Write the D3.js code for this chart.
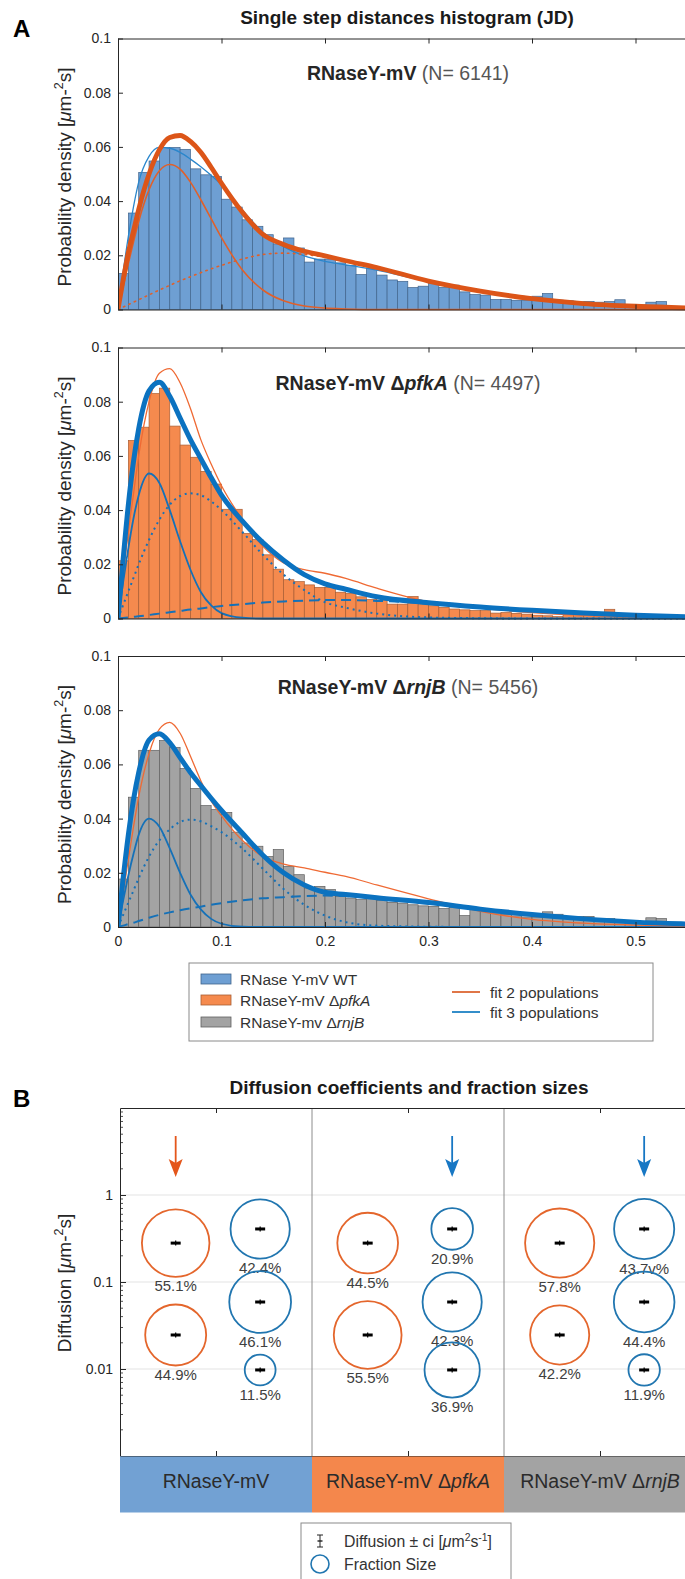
<!DOCTYPE html>
<html>
<head>
<meta charset="utf-8">
<script src="https://cdn.jsdelivr.net/npm/d3@7"></script>
<style>
  body { margin: 0; background: #fff; }
  svg { display: block; font-family: 'Liberation Sans', Arial, Helvetica, sans-serif; }
</style>
</head>
<body>
<div class="graph"></div>
<script>
// ---------- data ----------
const binWidth = 0.01;

// histogram heights per 0.01 bin, starting at 0
const wtBins = [0.0133, 0.0356, 0.0506, 0.0548, 0.0598, 0.0598, 0.0591, 0.0519, 0.0497, 0.0491,
  0.0407, 0.0378, 0.0331, 0.0307, 0.0276, 0.0242, 0.0264, 0.0227, 0.0175, 0.0186,
  0.0186, 0.0172, 0.0163, 0.0129, 0.0153, 0.0127, 0.0109, 0.0104, 0.0081, 0.0086,
  0.0098, 0.0081, 0.0090, 0.0065, 0.0055, 0.0053, 0.0037, 0.0037, 0.0034, 0.0034,
  0.0049, 0.0059, 0.0032, 0.0032, 0.0022, 0.0030, 0.0027, 0.0029, 0.0036, 0.0017,
  0.0017, 0.0027, 0.0029, 0.0010, 0.0010, 0.0010, 0.0008, 0.0008];
const pfkBins = [0.0213, 0.0657, 0.0706, 0.0830, 0.0850, 0.0710, 0.0640, 0.0595, 0.0543, 0.0496,
  0.0403, 0.0403, 0.0314, 0.0291, 0.0235, 0.0182, 0.0143, 0.0136, 0.0124, 0.0115,
  0.0115, 0.0097, 0.0093, 0.0080, 0.0070, 0.0068, 0.0053, 0.0053, 0.0081, 0.0051,
  0.0047, 0.0041, 0.0035, 0.0032, 0.0029, 0.0029, 0.0020, 0.0022, 0.0019, 0.0016,
  0.0012, 0.0010, 0.0007, 0.0025, 0.0010, 0.0025, 0.0010, 0.0034, 0.0006, 0.0006,
  0.0006, 0.0004, 0.0004, 0.0003, 0.0003, 0.0002, 0.0002, 0.0002];
const rnjBins = [0.0177, 0.0479, 0.0652, 0.0652, 0.0688, 0.0663, 0.0585, 0.0511, 0.0448, 0.0433,
  0.0423, 0.0350, 0.0310, 0.0298, 0.0260, 0.0286, 0.0224, 0.0193, 0.0144, 0.0150,
  0.0138, 0.0113, 0.0107, 0.0101, 0.0105, 0.0098, 0.0091, 0.0088, 0.0082, 0.0078,
  0.0076, 0.0068, 0.0072, 0.0042, 0.0066, 0.0058, 0.0052, 0.0046, 0.0041, 0.0037,
  0.0037, 0.0056, 0.0047, 0.0035, 0.0039, 0.0039, 0.0027, 0.0031, 0.0022, 0.0019,
  0.0015, 0.0034, 0.0031, 0.0012, 0.0012, 0.0010, 0.0008, 0.0006];

// fitted curves, sampled at fitX
const fitX = [0, 0.005, 0.01, 0.015, 0.02, 0.03, 0.04, 0.05, 0.06, 0.07, 0.08, 0.09, 0.10, 0.12,
  0.14, 0.16, 0.18, 0.20, 0.22, 0.25, 0.30, 0.35, 0.40, 0.45, 0.50, 0.55, 0.60];

const wtFit2 = [0, 0.011, 0.021, 0.029, 0.037, 0.050, 0.059, 0.0635, 0.0642, 0.062, 0.058, 0.0525, 0.0466, 0.036,
  0.0277, 0.024, 0.0215, 0.0198, 0.018, 0.0155, 0.0105, 0.0068, 0.0040, 0.0022, 0.0012, 0.0006, 0.0003];
const wtFit2a = [0, 0.0085, 0.017, 0.025, 0.0325, 0.0442, 0.0512, 0.0535, 0.0518, 0.047, 0.0405, 0.0335, 0.0265, 0.0147,
  0.0072, 0.0032, 0.0013, 0.0005, 0.0002, 0, 0, 0, 0, 0, 0, 0, 0];
const wtFit2b = [0, 0.0009, 0.0018, 0.0027, 0.0036, 0.0054, 0.0072, 0.0089, 0.0106, 0.0121, 0.0136, 0.015, 0.0163, 0.0186,
  0.0203, 0.0208, 0.0203, 0.0193, 0.0178, 0.0155, 0.0105, 0.0068, 0.004, 0.0022, 0.0012, 0.0006, 0.0003];
const wtFit3 = [0, 0.014, 0.027, 0.038, 0.047, 0.0565, 0.0598, 0.0595, 0.058, 0.0555, 0.0527, 0.0495, 0.046, 0.0368,
  0.0285, 0.0232, 0.0198, 0.0178, 0.0165, 0.0145, 0.0103, 0.007, 0.0045, 0.0027, 0.0015, 0.0008, 0.0004];

const pfkFit3 = [0, 0.022, 0.042, 0.058, 0.070, 0.084, 0.0872, 0.082, 0.074, 0.066, 0.059, 0.052, 0.0455, 0.036,
  0.028, 0.0215, 0.0162, 0.0128, 0.0108, 0.0080, 0.0058, 0.0042, 0.003, 0.002, 0.0012, 0.0006, 0.0003];
const pfkFit3a = [0, 0.0135, 0.026, 0.037, 0.0455, 0.0535, 0.050, 0.040, 0.0285, 0.018, 0.0098, 0.0048, 0.002, 0.0003,
  0, 0, 0, 0, 0, 0, 0, 0, 0, 0, 0, 0, 0];
const pfkFit3b = [0, 0.005, 0.010, 0.015, 0.020, 0.029, 0.0365, 0.042, 0.0452, 0.0462, 0.0455, 0.0432, 0.040, 0.032,
  0.0235, 0.0162, 0.0105, 0.006, 0.004, 0.0018, 0.0004, 0.0001, 0, 0, 0, 0, 0];
const pfkFit3c = [0, 0.0002, 0.0004, 0.0006, 0.0008, 0.0013, 0.0018, 0.0023, 0.0028, 0.0033, 0.0037, 0.0042, 0.0046, 0.0053,
  0.0059, 0.0063, 0.0066, 0.0068, 0.0068, 0.0065, 0.0056, 0.0042, 0.003, 0.002, 0.0012, 0.0006, 0.0003];
const pfkFit2 = [0, 0.016, 0.032, 0.046, 0.060, 0.080, 0.0905, 0.0922, 0.087, 0.0775, 0.066, 0.057, 0.049, 0.0366,
  0.0266, 0.0205, 0.018, 0.0167, 0.0148, 0.0112, 0.0062, 0.0038, 0.0022, 0.0012, 0.0006, 0.0003, 0.0001];

const rnjFit3 = [0, 0.018, 0.034, 0.047, 0.057, 0.069, 0.0713, 0.068, 0.0625, 0.057, 0.0522, 0.0475, 0.043, 0.0347,
  0.0265, 0.020, 0.0155, 0.0128, 0.012, 0.0108, 0.009, 0.0066, 0.0046, 0.003, 0.0018, 0.0011, 0.0006];
const rnjFit3a = [0, 0.0098, 0.019, 0.027, 0.034, 0.040, 0.037, 0.029, 0.020, 0.012, 0.0065, 0.003, 0.0012, 0.0001,
  0, 0, 0, 0, 0, 0, 0, 0, 0, 0, 0, 0, 0];
const rnjFit3b = [0, 0.0045, 0.009, 0.0135, 0.018, 0.026, 0.032, 0.036, 0.0388, 0.0396, 0.039, 0.0372, 0.035, 0.029,
  0.0215, 0.014, 0.0082, 0.0042, 0.0018, 0.0005, 0.0001, 0, 0, 0, 0, 0, 0];
const rnjFit3c = [0, 0.0005, 0.0011, 0.0016, 0.0022, 0.0034, 0.0045, 0.0054, 0.0062, 0.0069, 0.0075, 0.0082, 0.0088, 0.0098,
  0.0106, 0.011, 0.0114, 0.0116, 0.0114, 0.0106, 0.009, 0.0066, 0.0046, 0.003, 0.0018, 0.0011, 0.0006];
const rnjFit2 = [0, 0.0125, 0.025, 0.037, 0.048, 0.064, 0.073, 0.0755, 0.0715, 0.063, 0.054, 0.0465, 0.041, 0.032,
  0.026, 0.0232, 0.0218, 0.0202, 0.0187, 0.0155, 0.0104, 0.0058, 0.0028, 0.0014, 0.0007, 0.0003, 0.0001];

const sampleN = [6141, 4497, 5456];
const yTicksA = [0, 0.02, 0.04, 0.06, 0.08, 0.1];
const xTicksA = [0, 0.1, 0.2, 0.3, 0.4, 0.5];

// panel B: diffusion coefficients (um^2/s) and fraction sizes
const diff2 = [[0.28, 0.0246], [0.28, 0.0246], [0.28, 0.0246]];
const frac2 = [['55.1%', '44.9%'], ['44.5%', '55.5%'], ['57.8%', '42.2%']];
const diff3 = [[0.407, 0.0589, 0.00975], [0.407, 0.0589, 0.00975], [0.407, 0.0589, 0.00975]];
const frac3 = [['42.4%', '46.1%', '11.5%'], ['20.9%', '42.3%', '36.9%'], ['43.7v%', '44.4%', '11.9%']];
const bestModel = [2, 3, 3];
const yTicksB = [0.01, 0.1, 1];

// ---------- drawing ----------
const width = 685, height = 1579;
const axisColor = '#262626';

const svg = d3.select('.graph')
  .append('svg')
  .attr('width', width)
  .attr('height', height);

// text made of pieces (bold / italic / superscript)
function addRich(textSel, parts, fs) {
  let shift = 0;
  parts.forEach(p => {
    const ts = textSel.append('tspan').text(p.t);
    if (p.b) ts.attr('font-weight', 'bold');
    if (p.i) ts.attr('font-style', 'italic');
    if (p.fill) ts.attr('fill', p.fill);
    const want = p.sup ? -fs * 0.38 : 0;
    if (want !== shift) { ts.attr('dy', want - shift); shift = want; }
    if (p.sup) ts.attr('font-size', fs * 0.66);
  });
}

const unitParts = [{t: 'Probability density ['}, {t: 'μ', i: true}, {t: 'm-'}, {t: '2', sup: true}, {t: 's]'}];

svg.append('text').text('A')
  .attr('x', 13).attr('y', 36.5)
  .attr('font-size', 24).attr('font-weight', 'bold');

svg.append('text').text('Single step distances histogram (JD)')
  .attr('x', 407).attr('y', 24)
  .attr('text-anchor', 'middle')
  .attr('font-size', 19).attr('font-weight', 'bold')
  .attr('fill', '#1a1a1a');

const x = d3.scaleLinear().domain([0, 0.56]).range([118, 118 + 0.56 * 1035]);
const panelTop = [38.5, 347.5, 656], panelH = 271;
const titleBase = [79.5, 390, 693.5];

const orangeC = '#d95319', blueC = '#0072bd';

const panels = [
  {
    bins: wtBins, fill: '#6e9fd3', edge: '#40648c',
    title: [{t: 'RNaseY-mV ', b: true}],
    lines: [
      {y: wtFit3, color: '#2a86cc', w: 1.3},
      {y: wtFit2a, color: '#e0602a', w: 1.6},
      {y: wtFit2b, color: '#e0602a', w: 1.6, dash: '1.5,4.5', cap: 'round'},
      {y: wtFit2, color: '#dc5518', w: 4.8}
    ]
  },
  {
    bins: pfkBins, fill: '#f58a4e', edge: '#a85d34',
    title: [{t: 'RNaseY-mV Δ', b: true}, {t: 'pfkA', b: true, i: true}, {t: ' ', b: true}],
    lines: [
      {y: pfkFit3a, color: '#1571b8', w: 1.8},
      {y: pfkFit3b, color: '#1571b8', w: 2, dash: '2,4'},
      {y: pfkFit3c, color: '#1571b8', w: 2, dash: '10,6'},
      {y: pfkFit2, color: '#ef6a34', w: 1.3},
      {y: pfkFit3, color: '#0b72c0', w: 5}
    ]
  },
  {
    bins: rnjBins, fill: '#a3a3a3', edge: '#5f5f5f',
    title: [{t: 'RNaseY-mV Δ', b: true}, {t: 'rnjB', b: true, i: true}, {t: ' ', b: true}],
    lines: [
      {y: rnjFit3a, color: '#1571b8', w: 1.8},
      {y: rnjFit3b, color: '#1571b8', w: 2, dash: '2,4'},
      {y: rnjFit3c, color: '#1571b8', w: 2, dash: '10,6'},
      {y: rnjFit2, color: '#ef6a34', w: 1.3},
      {y: rnjFit3, color: '#0b72c0', w: 5}
    ]
  }
];

panels.forEach((p, k) => {
  const top = panelTop[k], bottom = top + panelH;
  const y = d3.scaleLinear().domain([0, 0.1]).range([bottom, top]);
  const g = svg.append('g');

  const clipId = 'clipA' + k;
  svg.append('clipPath').attr('id', clipId)
    .append('rect')
    .attr('x', x(0)).attr('y', top)
    .attr('width', x(0.56) - x(0)).attr('height', panelH + 3);

  const plot = g.append('g').attr('clip-path', `url(#${clipId})`);

  plot.selectAll('rect.bar')
    .data(p.bins)
    .enter()
    .append('rect')
    .attr('class', 'bar')
    .attr('x', (d, i) => x(i * binWidth))
    .attr('y', d => y(d))
    .attr('width', (d, i) => x((i + 1) * binWidth) - x(i * binWidth))
    .attr('height', d => y(0) - y(d))
    .attr('fill', p.fill)
    .attr('stroke', p.edge)
    .attr('stroke-width', 0.7);

  const line = d3.line()
    .x(d => x(d[0]))
    .y(d => y(d[1]))
    .curve(d3.curveMonotoneX);

  p.lines.forEach(l => {
    plot.append('path')
      .attr('d', line(d3.zip(fitX, l.y)))
      .attr('fill', 'none')
      .attr('stroke', l.color)
      .attr('stroke-width', l.w)
      .attr('stroke-dasharray', l.dash || null)
      .attr('stroke-linecap', l.cap || 'butt')
      .attr('stroke-linejoin', 'round');
  });

  // axes (ticks point inward)
  const yAxis = g.append('g')
    .attr('transform', `translate(${x(0)},0)`)
    .call(d3.axisLeft(y).tickValues(yTicksA).tickSize(-5).tickSizeOuter(0).tickPadding(7)
      .tickFormat(d => d === 0 ? '0' : d3.format('')(+d.toFixed(2))));
  yAxis.attr('font-family', null).attr('font-size', 14).attr('color', axisColor);

  const topAxis = g.append('g')
    .attr('transform', `translate(0,${top})`)
    .call(d3.axisTop(x).tickValues(xTicksA).tickSize(-5).tickSizeOuter(0).tickFormat(''));
  topAxis.attr('color', axisColor);

  const botAxis = g.append('g')
    .attr('transform', `translate(0,${bottom})`)
    .call(d3.axisBottom(x).tickValues(xTicksA).tickSize(-5).tickSizeOuter(0).tickPadding(9.5)
      .tickFormat(k === 2 ? (d => d === 0 ? '0' : String(d)) : ''));
  botAxis.attr('font-family', null).attr('font-size', 14).attr('color', axisColor);

  // panel title
  const t = g.append('text')
    .attr('x', 408).attr('y', titleBase[k])
    .attr('text-anchor', 'middle')
    .attr('font-size', 19.5)
    .attr('fill', '#262626');
  addRich(t, p.title.concat([{t: '(N= ' + sampleN[k] + ')', fill: '#555'}]), 19.5);

  // y label
  const yl = g.append('text')
    .attr('transform', `translate(70.5,${top + panelH / 2 + 3}) rotate(-90)`)
    .attr('text-anchor', 'middle')
    .attr('font-size', 19)
    .attr('fill', '#262626');
  addRich(yl, unitParts, 19);
});

// legend of panel A
const legA = svg.append('g');
legA.append('rect')
  .attr('x', 189).attr('y', 963).attr('width', 464).attr('height', 78)
  .attr('fill', '#fff').attr('stroke', '#8a8a8a').attr('stroke-width', 1);

const legRows = [
  {parts: [{t: 'RNase Y-mV WT'}], fill: panels[0].fill, edge: panels[0].edge},
  {parts: [{t: 'RNaseY-mV Δ'}, {t: 'pfkA', i: true}], fill: panels[1].fill, edge: panels[1].edge},
  {parts: [{t: 'RNaseY-mv Δ'}, {t: 'rnjB', i: true}], fill: panels[2].fill, edge: panels[2].edge}
];
const legRowY = [979, 1000, 1022];
legRows.forEach((r, i) => {
  legA.append('rect')
    .attr('x', 201).attr('y', legRowY[i] - 5).attr('width', 30).attr('height', 10)
    .attr('fill', r.fill).attr('stroke', r.edge).attr('stroke-width', 0.8);
  const t = legA.append('text')
    .attr('x', 240).attr('y', legRowY[i] + 5.5)
    .attr('font-size', 15.5).attr('fill', '#333');
  addRich(t, r.parts, 15.5);
});
[{label: 'fit 2 populations', color: orangeC, y: 992}, {label: 'fit 3 populations', color: blueC, y: 1012}]
  .forEach(r => {
    legA.append('line')
      .attr('x1', 452).attr('x2', 480).attr('y1', r.y).attr('y2', r.y)
      .attr('stroke', r.color).attr('stroke-width', 1.6);
    legA.append('text').text(r.label)
      .attr('x', 490).attr('y', r.y + 5.5)
      .attr('font-size', 15.5).attr('fill', '#333');
  });

// ---------- panel B ----------
svg.append('text').text('B')
  .attr('x', 13).attr('y', 1107)
  .attr('font-size', 24).attr('font-weight', 'bold');

svg.append('text').text('Diffusion coefficients and fraction sizes')
  .attr('x', 409).attr('y', 1094)
  .attr('text-anchor', 'middle')
  .attr('font-size', 19).attr('font-weight', 'bold')
  .attr('fill', '#1a1a1a');

const yB = d3.scaleLog().domain([0.001, 10]).range([1456, 1108]);
const xB = d3.scaleLinear().domain([0.5, 3.5]).range([120, 696]);
const rScale = d3.scaleSqrt().domain([0, 100]).range([0, 45.5]);
const gB = svg.append('g');

// grid
gB.selectAll('line.grid')
  .data(yTicksB)
  .enter()
  .append('line')
  .attr('x1', xB(0.5)).attr('x2', width)
  .attr('y1', d => yB(d)).attr('y2', d => yB(d))
  .attr('stroke', '#e3e3e3').attr('stroke-width', 1.2);

// group separators
gB.selectAll('line.sep')
  .data([1.5, 2.5])
  .enter()
  .append('line')
  .attr('x1', d => xB(d)).attr('x2', d => xB(d))
  .attr('y1', yB(10)).attr('y2', yB(0.001))
  .attr('stroke', '#8c8c8c').attr('stroke-width', 1);

// left log axis with minor ticks
const minor = yB.ticks().filter(v => yTicksB.indexOf(v) < 0 && v !== 0.001 && v !== 10);
gB.selectAll('line.minor')
  .data(minor)
  .enter()
  .append('line')
  .attr('x1', xB(0.5)).attr('x2', xB(0.5) + 3)
  .attr('y1', d => yB(d)).attr('y2', d => yB(d))
  .attr('stroke', axisColor).attr('stroke-width', 0.8);

const yAxisB = gB.append('g')
  .attr('transform', `translate(${xB(0.5)},0)`)
  .call(d3.axisLeft(yB).tickValues(yTicksB).tickSize(-6).tickSizeOuter(0).tickPadding(7)
    .tickFormat(d => String(d)));
yAxisB.attr('font-family', null).attr('font-size', 14).attr('color', axisColor);

gB.append('g')
  .attr('transform', `translate(0,${yB(10)})`)
  .call(d3.axisTop(xB).tickValues([1, 2, 3]).tickSize(-5).tickSizeOuter(0).tickFormat(''))
  .attr('color', axisColor);
gB.append('g')
  .attr('transform', `translate(0,${yB(0.001)})`)
  .call(d3.axisBottom(xB).tickValues([1, 2, 3]).tickSize(-5).tickSizeOuter(0).tickFormat(''))
  .attr('color', axisColor);

// y label
const ylB = gB.append('text')
  .attr('transform', `translate(70.5,${(yB(10) + yB(0.001)) / 2 + 1}) rotate(-90)`)
  .attr('text-anchor', 'middle')
  .attr('font-size', 19)
  .attr('fill', '#262626');
addRich(ylB, [{t: 'Diffusion ['}, {t: 'μ', i: true}, {t: 'm-'}, {t: '2', sup: true}, {t: 's]'}], 19);

// strain band under the axis
const bandColors = ['#72a1d3', '#f4874c', '#a3a3a3'];
const strainParts = [
  [{t: 'RNaseY-mV'}],
  [{t: 'RNaseY-mV Δ'}, {t: 'pfkA', i: true}],
  [{t: 'RNaseY-mV Δ'}, {t: 'rnjB', i: true}]
];
strainParts.forEach((parts, i) => {
  gB.append('rect')
    .attr('x', xB(i + 0.5)).attr('y', yB(0.001) + 0.5)
    .attr('width', xB(i + 1.5) - xB(i + 0.5)).attr('height', 56)
    .attr('fill', bandColors[i]);
  const t = gB.append('text')
    .attr('x', xB(i + 1)).attr('y', 1488)
    .attr('text-anchor', 'middle')
    .attr('font-size', 19.5).attr('fill', '#2b2b2b');
  addRich(t, parts, 19.5);
});

// circles, error marks and labels
const off2 = -0.21, off3 = 0.23;
const circleOrange = '#e4662c', circleBlue = '#2176b0';

function drawPop(cx, d, label, color) {
  const cy = yB(d);
  const r = rScale(parseFloat(label));
  gB.append('circle')
    .attr('cx', cx).attr('cy', cy).attr('r', r)
    .attr('fill', 'none').attr('stroke', color).attr('stroke-width', 1.8);
  gB.append('line')
    .attr('x1', cx - 5).attr('x2', cx + 5).attr('y1', cy).attr('y2', cy)
    .attr('stroke', '#000').attr('stroke-width', 3);
  gB.append('line')
    .attr('x1', cx).attr('x2', cx).attr('y1', cy - 2.5).attr('y2', cy + 2.5)
    .attr('stroke', '#000').attr('stroke-width', 1.2);
  gB.append('text').text(label)
    .attr('x', cx).attr('y', cy + r + 14.5)
    .attr('text-anchor', 'middle')
    .attr('font-size', 15).attr('fill', '#404040');
}

diff2.forEach((ds, i) => ds.forEach((d, j) => drawPop(xB(i + 1 + off2), d, frac2[i][j], circleOrange)));
diff3.forEach((ds, i) => ds.forEach((d, j) => drawPop(xB(i + 1 + off3), d, frac3[i][j], circleBlue)));

// arrows pointing at the chosen model
bestModel.forEach((m, i) => {
  const ax = xB(i + 1 + (m === 2 ? off2 : off3));
  const color = m === 2 ? '#e4561b' : '#1777c4';
  const y0 = yB(10) + 28, tip = yB(10) + 69;
  gB.append('line')
    .attr('x1', ax).attr('x2', ax).attr('y1', y0).attr('y2', tip - 10)
    .attr('stroke', color).attr('stroke-width', 1.8);
  gB.append('path')
    .attr('d', `M${ax - 7},${tip - 18} L${ax},${tip - 14} L${ax + 7},${tip - 18} L${ax},${tip} Z`)
    .attr('fill', color);
});

// legend of panel B
const legB = svg.append('g');
legB.append('rect')
  .attr('x', 301).attr('y', 1523).attr('width', 210).attr('height', 70)
  .attr('fill', '#fff').attr('stroke', '#8a8a8a').attr('stroke-width', 1);
legB.append('line').attr('x1', 320).attr('x2', 320).attr('y1', 1535).attr('y2', 1547)
  .attr('stroke', '#222').attr('stroke-width', 1);
[1535, 1547].forEach(v => legB.append('line')
  .attr('x1', 317).attr('x2', 323).attr('y1', v).attr('y2', v)
  .attr('stroke', '#222').attr('stroke-width', 1));
legB.append('line').attr('x1', 317.5).attr('x2', 322.5).attr('y1', 1541).attr('y2', 1541)
  .attr('stroke', '#222').attr('stroke-width', 1.4);
const lt = legB.append('text').attr('x', 344).attr('y', 1547)
  .attr('font-size', 15.8).attr('fill', '#333');
addRich(lt, [{t: 'Diffusion ± ci  ['}, {t: 'μ', i: true}, {t: 'm'}, {t: '2', sup: true}, {t: 's'},
  {t: '-1', sup: true}, {t: ']'}], 15.8);
legB.append('circle').attr('cx', 320).attr('cy', 1564).attr('r', 9)
  .attr('fill', 'none').attr('stroke', circleBlue).attr('stroke-width', 1.6);
legB.append('text').text('Fraction Size')
  .attr('x', 344).attr('y', 1569.5)
  .attr('font-size', 15.8).attr('fill', '#333');
</script>
</body>
</html>
